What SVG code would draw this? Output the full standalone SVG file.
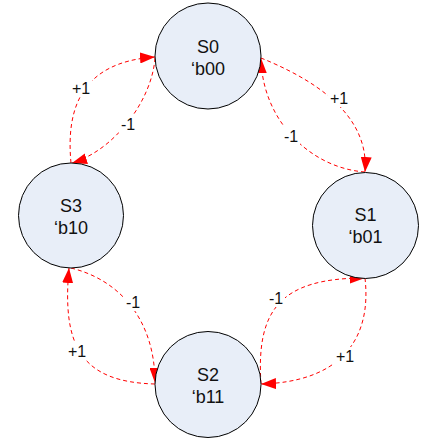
<svg xmlns="http://www.w3.org/2000/svg" width="424" height="440" viewBox="0 0 424 440">
<style>
.node circle{fill:#E8EEF8;stroke:#000;stroke-width:1}
.node text{font-family:"Liberation Sans",Arial,sans-serif;font-size:18px;fill:#111;text-anchor:middle}
.edge{fill:none;stroke:#FF0000;stroke-width:1;stroke-dasharray:4,3;marker-end:url(#arr)}
.bg{fill:#fff}
.lbl{font-family:"Liberation Sans",Arial,sans-serif;font-size:16px;fill:#111;text-anchor:middle}
</style>
<defs>
<marker id="arr" markerUnits="userSpaceOnUse" markerWidth="15" markerHeight="11" refX="15" refY="5.5" orient="auto">
<path d="M0,0 L15,5.5 L0,11 z" fill="#FF0000"/>
</marker>
</defs>
<rect width="424" height="440" fill="#fff"/>
<g id="connectors">
<path class="edge" d="M261,58 C305,76 370,110 365,172"/>
<path class="edge" d="M365,172 C310,168 262,120 261,58"/>
<path class="edge" d="M71,163 C66,110 80,62 155,57"/>
<path class="edge" d="M155,58 C152,100 115,150 72,163"/>
<path class="edge" d="M71,268 C120,280 155,320 155,383"/>
<path class="edge" d="M155,384 C80,382 62,345 69,268"/>
<path class="edge" d="M261,384 C256,310 280,278 365,278"/>
<path class="edge" d="M365,278 C372,340 340,382 261,384"/>
<rect class="bg" x="328" y="89" width="22" height="18"/>
<rect class="bg" x="282" y="127" width="18" height="18"/>
<rect class="bg" x="70" y="79" width="22" height="18"/>
<rect class="bg" x="119" y="115" width="18" height="18"/>
<rect class="bg" x="124" y="293" width="18" height="18"/>
<rect class="bg" x="66" y="342" width="22" height="18"/>
<rect class="bg" x="267" y="289" width="18" height="18"/>
<rect class="bg" x="334" y="347" width="22" height="18"/>
<text class="lbl" x="339" y="104">+1</text>
<text class="lbl" x="291" y="142">-1</text>
<text class="lbl" x="81" y="94">+1</text>
<text class="lbl" x="128" y="130">-1</text>
<text class="lbl" x="133" y="308">-1</text>
<text class="lbl" x="77" y="357">+1</text>
<text class="lbl" x="276" y="304">-1</text>
<text class="lbl" x="345" y="362">+1</text>
</g>
<g id="S0" class="node"><circle cx="208" cy="56" r="53"/><text x="208" y="53">S0</text><text x="208" y="75">‘b00</text></g>
<g id="S1" class="node"><circle cx="365.5" cy="225.5" r="53"/><text x="365.5" y="221">S1</text><text x="365.5" y="243">‘b01</text></g>
<g id="S2" class="node"><circle cx="208" cy="384.5" r="53"/><text x="208" y="381">S2</text><text x="208" y="403">‘b11</text></g>
<g id="S3" class="node"><circle cx="71" cy="215.5" r="52.5"/><text x="71" y="212">S3</text><text x="71" y="234">‘b10</text></g>
</svg>
